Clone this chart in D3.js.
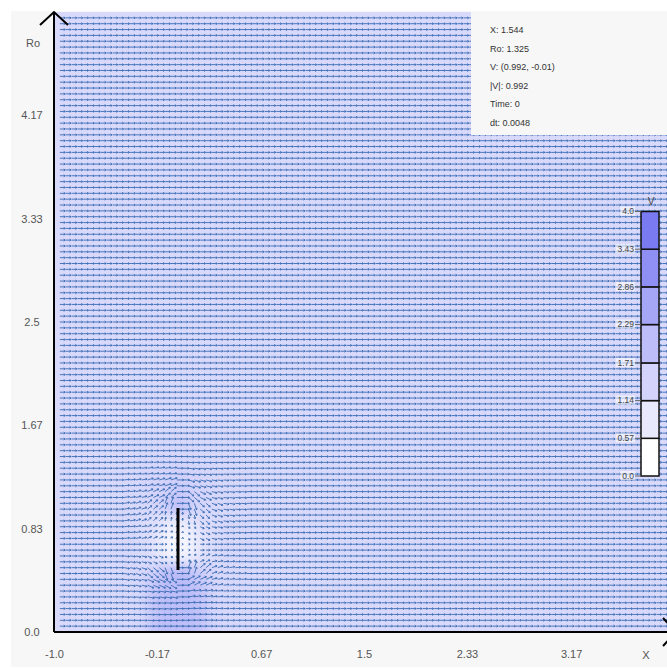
<!DOCTYPE html>
<html>
<head>
<meta charset="utf-8">
<script src="https://cdn.jsdelivr.net/npm/d3@7"></script>
<style>
  html, body { margin: 0; padding: 0; overflow: hidden; background: #ffffff; }
  svg { display: block; font-family: Arial, "Liberation Sans", sans-serif; }
</style>
</head>
<body>
<svg id="chart" width="667" height="669"></svg>
<script>
// Axis ticks
const xTicks = [-1.0, -0.17, 0.67, 1.5, 2.33, 3.17];
const roTicks = [0.0, 0.83, 1.67, 2.5, 3.33, 4.17];
// Colour legend for |V|
const legendTicks = [0.0, 0.57, 1.14, 1.71, 2.29, 2.86, 3.43, 4.0];

// Undisturbed stream: [speed, angle in degrees]
const freestream = [0.99, 0];

// Field samples around the plate (0.1 spacing), rows from Ro = 1.5 down to 0.0
const nearX = [-0.4, -0.3, -0.2, -0.1, 0.0, 0.1, 0.2, 0.3, 0.4, 0.5];
const nearRo = [1.5, 1.4, 1.3, 1.2, 1.1, 1.0, 0.9, 0.8, 0.7, 0.6, 0.5, 0.4, 0.3, 0.2, 0.1, 0.0];
const nearSpeed = [
  [1.0, 1.0, 1.0, 1.0, 1.0, 1.0, 1.0, 1.0, 1.0, 1.0],
  [1.0, 1.0, 1.0, 1.05, 1.05, 1.05, 1.0, 1.0, 1.0, 1.0],
  [1.0, 1.0, 1.05, 1.1, 1.15, 1.1, 1.05, 1.0, 1.0, 1.0],
  [1.0, 1.0, 1.1, 1.2, 1.3, 1.2, 1.1, 1.0, 1.0, 1.0],
  [1.0, 1.0, 1.1, 1.25, 1.5, 1.25, 1.1, 1.0, 1.0, 1.0],
  [1.0, 1.0, 1.0, 1.3, 1.9, 1.3, 1.0, 1.0, 1.0, 1.0],
  [1.0, 0.95, 0.9, 0.7, 0.5, 0.7, 0.9, 0.95, 1.0, 1.0],
  [1.0, 0.95, 0.8, 0.4, 0.2, 0.4, 0.8, 0.95, 1.0, 1.0],
  [1.0, 0.95, 0.75, 0.3, 0.1, 0.3, 0.75, 0.95, 1.0, 1.0],
  [1.0, 0.95, 0.8, 0.45, 0.3, 0.45, 0.8, 0.95, 1.0, 1.0],
  [1.0, 1.0, 1.2, 1.6, 1.9, 1.6, 1.2, 1.0, 1.0, 1.0],
  [1.0, 1.0, 1.5, 1.7, 1.8, 1.7, 1.5, 1.0, 1.0, 1.0],
  [1.0, 1.0, 1.5, 1.7, 1.7, 1.7, 1.5, 1.0, 1.0, 1.0],
  [1.0, 1.0, 1.5, 1.7, 1.7, 1.7, 1.5, 1.0, 1.0, 1.0],
  [1.0, 1.0, 1.5, 1.7, 1.7, 1.7, 1.5, 1.0, 1.0, 1.0],
  [1.0, 1.0, 1.5, 1.7, 1.7, 1.7, 1.5, 1.0, 1.0, 1.0]
];
const nearAngle = [
  [0, 0, 0, 0, 0, 0, 0, 0, 0, 0],
  [2, 3, 4, 3, 0, -3, -4, -3, -2, -1],
  [4, 6, 9, 8, 0, -8, -9, -6, -4, -2],
  [6, 10, 16, 18, 0, -18, -16, -10, -6, -3],
  [8, 14, 26, 40, 0, -40, -26, -14, -8, -4],
  [10, 20, 40, 70, 0, -70, -40, -20, -10, -5],
  [10, 20, 45, 80, 90, -80, -45, -20, -10, -5],
  [6, 12, 25, 50, 90, -50, -25, -12, -6, -3],
  [0, 0, 0, 0, 0, 0, 0, 0, 0, 0],
  [-6, -12, -25, -50, -90, 50, 25, 12, 6, 3],
  [-10, -20, -40, -70, 0, 70, 40, 20, 10, 5],
  [-8, -14, -24, -30, 0, 30, 24, 14, 8, 4],
  [-4, -7, -10, -10, 0, 10, 10, 7, 4, 2],
  [-2, -3, -4, -4, 0, 4, 4, 3, 2, 1],
  [0, -1, -2, -2, 0, 2, 2, 1, 0, 0],
  [0, 0, 0, 0, 0, 0, 0, 0, 0, 0]
];

// The plate (segment in the X-Ro plane)
const plateX = [0.0, 0.0];
const plateRo = [0.5, 1.0];

// Probe readout
const infoLines = ["X: 1.544", "Ro: 1.325", "V: (0.992, -0.01)", "|V|: 0.992", "Time: 0", "dt: 0.0048"];

// Number of interior arrow nodes along each axis
const gridCount = 105;

// ---------------------------------------------------------------
const svg = d3.select("#chart");
const x = d3.scaleLinear().domain([-1, 4]).range([54, 674]);
const y = d3.scaleLinear().domain([0, 5]).range([632, 12]);
const colour = d3.scaleLinear().domain([0, 4]).range(["#ffffff", "#6464f0"]);

const cellStep = 0.1;
function sampleField(px, py) {
  const i = Math.round((px - nearX[0]) / cellStep);
  const j = Math.round((nearRo[0] - py) / cellStep);
  if (i >= 0 && i < nearX.length && j >= 0 && j < nearRo.length) {
    return [nearSpeed[j][i], nearAngle[j][i]];
  }
  return freestream;
}

// page panel
svg.append("rect").attr("x", 11).attr("y", 11).attr("width", 660).attr("height", 656).attr("fill", "#f7f7f7");

const defs = svg.append("defs");
defs.append("clipPath").attr("id", "plotClip")
  .append("rect").attr("x", x(-1)).attr("y", y(5)).attr("width", x(4) - x(-1)).attr("height", y(0) - y(5));
defs.append("filter").attr("id", "soft").attr("x", "-20%").attr("y", "-20%").attr("width", "140%").attr("height", "140%")
  .append("feGaussianBlur").attr("stdDeviation", 6);

// speed-coloured background
const bgOuter = svg.append("g").attr("clip-path", "url(#plotClip)");
const bg = bgOuter.append("g").attr("filter", "url(#soft)");
bg.append("rect")
  .attr("x", x(-1) - 30).attr("y", y(5) - 30)
  .attr("width", x(4) - x(-1) + 60).attr("height", y(0) - y(5) + 60)
  .attr("fill", colour(freestream[0]));
const cells = [];
nearRo.forEach((ro, j) => nearX.forEach((cx, i) => cells.push({ cx, ro, s: nearSpeed[j][i], last: j === nearRo.length - 1 })));
bg.selectAll("rect.cell").data(cells).join("rect")
  .attr("class", "cell")
  .attr("x", d => x(d.cx - cellStep / 2))
  .attr("y", d => y(d.ro + cellStep / 2))
  .attr("width", x(cellStep) - x(0))
  .attr("height", d => (y(0) - y(cellStep)) + (d.last ? 30 : 0))
  .attr("fill", d => colour(d.s));

// arrow field
const h = 5 / (gridCount + 1);
const nodes = [];
for (let k = 1; k <= gridCount; k++) {
  for (let m = 1; m <= gridCount; m++) {
    const gx = -1 + k * h, gy = m * h;
    const v = sampleField(gx, gy);
    nodes.push({ gx, gy, s: v[0], a: v[1] });
  }
}
function arrowPath(d) {
  const p = d3.path();
  const L = 5.4 * Math.min(d.s, 1.25);
  const t = d.a * Math.PI / 180;
  const x0 = x(d.gx), y0 = y(d.gy);
  const x1 = x0 + L * Math.cos(t), y1 = y0 - L * Math.sin(t);
  p.moveTo(x0, y0); p.lineTo(x1, y1);
  const b = 1.8;
  for (const s of [1, -1]) {
    const tb = t + Math.PI - s * 0.6;
    p.moveTo(x1, y1);
    p.lineTo(x1 + b * Math.cos(tb), y1 - b * Math.sin(tb));
  }
  return p.toString();
}
svg.append("g").attr("clip-path", "url(#plotClip)")
  .selectAll("path").data(nodes).join("path")
  .attr("d", arrowPath)
  .attr("fill", "none")
  .attr("stroke", "#3a6bb2")
  .attr("stroke-opacity", 0.9)
  .attr("stroke-width", 1);

// plate
svg.append("line")
  .attr("x1", x(plateX[0])).attr("y1", y(plateRo[0]))
  .attr("x2", x(plateX[1])).attr("y2", y(plateRo[1]))
  .attr("stroke", "#000").attr("stroke-width", 3);

// axes
const fmt = d => Number.isInteger(d) ? d.toFixed(1) : String(d);
const xAxis = svg.append("g").attr("transform", `translate(0,${y(0)})`)
  .call(d3.axisBottom(x).tickValues(xTicks).tickSize(0).tickPadding(18).tickFormat(fmt));
xAxis.select(".domain").remove();
xAxis.selectAll("text").attr("font-size", 11).attr("fill", "#555").attr("font-family", null);

const yAxis = svg.append("g").attr("transform", `translate(${x(-1)},0)`)
  .call(d3.axisLeft(y).tickValues(roTicks).tickSize(0).tickFormat(fmt));
yAxis.select(".domain").remove();
yAxis.selectAll("text").attr("font-size", 11).attr("fill", "#555").attr("font-family", null)
  .attr("text-anchor", "middle").attr("x", -22);

const axisG = svg.append("g").attr("stroke", "#000").attr("stroke-width", 2).attr("fill", "none");
axisG.append("path").attr("d", d3.line()([[x(-1), y(0)], [x(4) + 2, y(0)]]));
axisG.append("path").attr("d", d3.line()([[x(-1), y(0)], [x(-1), y(5)]]));
axisG.append("path").attr("d", d3.line()([[x(-1) - 14, y(5) + 13], [x(-1), y(5)], [x(-1) + 14, y(5) + 13]]));
axisG.append("path").attr("d", d3.line()([[x(4) + 2 - 13, y(0) - 14], [x(4) + 2, y(0)], [x(4) + 2 - 13, y(0) + 14]]));

svg.append("text").attr("x", 33).attr("y", 47).attr("text-anchor", "middle")
  .attr("font-size", 11).attr("fill", "#555").text("Ro");
svg.append("text").attr("x", 646).attr("y", 659).attr("text-anchor", "middle")
  .attr("font-size", 11).attr("fill", "#555").text("X");

// probe readout panel
svg.append("rect").attr("x", 471).attr("y", 11).attr("width", 200).attr("height", 124).attr("fill", "#f7f7f7");
svg.append("g").selectAll("text").data(infoLines).join("text")
  .attr("x", 490).attr("y", (d, i) => 33 + i * 18.6)
  .attr("font-size", 9).attr("fill", "#333")
  .text(d => d);

// colour legend
const ly = d3.scaleLinear().domain([0, 4]).range([476, 211.5]);
const bands = d3.pairs(legendTicks);
const legend = svg.append("g");
legend.selectAll("rect.band").data(bands).join("rect")
  .attr("class", "band")
  .attr("x", 641).attr("width", 18)
  .attr("y", d => ly(d[1])).attr("height", d => ly(d[0]) - ly(d[1]))
  .attr("fill", d => colour(d[0]))
  .attr("stroke", "#111").attr("stroke-width", 1.5);
const lt = legend.selectAll("g.tick").data(legendTicks).join("g")
  .attr("class", "tick").attr("transform", d => `translate(0,${ly(d)})`);
lt.append("rect").attr("x", d => 634 - fmt(d).length * 4.6).attr("y", -5)
  .attr("width", d => fmt(d).length * 4.6 + 1).attr("height", 9)
  .attr("fill", "#ffffff").attr("fill-opacity", 0.55);
lt.append("line").attr("x1", 635).attr("x2", 641).attr("stroke", "#666").attr("stroke-width", 1);
lt.append("text").attr("x", 634).attr("dy", "0.32em").attr("text-anchor", "end")
  .attr("font-size", 8.5).attr("fill", "#444").text(fmt);
legend.append("text").attr("x", 651).attr("y", 205).attr("text-anchor", "middle")
  .attr("font-size", 10).attr("fill", "#444").text("V");
</script>
</body>
</html>
